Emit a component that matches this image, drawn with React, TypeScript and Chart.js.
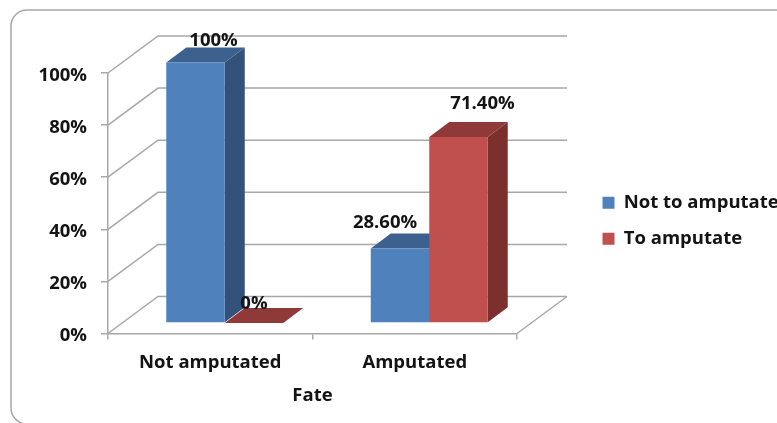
import React, { useEffect, useRef } from "react";
import { Chart, registerables } from "chart.js";

Chart.register(...registerables);

const categories = ["Not amputated", "Amputated"];
const notToAmputate = [100, 28.6];
const toAmputate = [0, 71.4];
const notToAmputateLabels = ["100%", "28.60%"];
const toAmputateLabels = ["0%", "71.40%"];
const percentTicks = [0, 20, 40, 60, 80, 100];

const FONT = "'Open Sans', 'Noto Sans', sans-serif";
const TEXT = "#141414";
const LINE = "#a8a8a8";
const labelFont = { family: FONT, size: 18.5, weight: "bold" };

// Receding offset of the chart box, and of the bars inside it.
const WALL_DEPTH = { x: 50, y: -37 };
const BAR_SHIFT = { x: 14.5, y: -10.5 };
const BAR_DEPTH = { x: 20, y: -15 };

const barColors = [
  { front: "#4f81bd", side: "#32527b", top: "#3c618f" },
  { front: "#c0504d", side: "#7c302e", top: "#8f3a38" },
];

// Hand-placed label offsets from each bar's top centre, per series and category.
const labelOffsets = [
  [{ x: 18, y: -22 }, { x: -15, y: -26 }],
  [{ x: 0, y: -19 }, { x: 24, y: -33 }],
];
const seriesLabels = [notToAmputateLabels, toAmputateLabels];

const facePath = (ctx: CanvasRenderingContext2D, pts: number[][], fill: string) => {
  ctx.beginPath();
  pts.forEach(([x, y], i) => (i ? ctx.lineTo(x, y) : ctx.moveTo(x, y)));
  ctx.closePath();
  ctx.fillStyle = fill;
  ctx.fill();
};

const cardPlugin = {
  id: "card",
  beforeDraw(chart: any) {
    const { ctx } = chart;
    ctx.save();
    ctx.fillStyle = "#ffffff";
    ctx.fillRect(0, 0, chart.width, chart.height);
    ctx.beginPath();
    ctx.roundRect(11, 10, 820, 414, 16);
    ctx.strokeStyle = "#a6a6a6";
    ctx.lineWidth = 1.5;
    ctx.stroke();
    ctx.restore();
  },
};

// Moves the legend into the free space right of the box; its clip must reach the canvas edge.
const legendPlacement = {
  id: "legendPlacement",
  afterLayout(chart: any) {
    const legend = chart.legend;
    legend.left = 585;
    legend.right = 800;
    legend.width = 215;
    legend.top = 176;
    legend.bottom = 300;
  },
};

// Draws the walls and the extruded bars, in series order so later bars cover earlier ones.
const box3dPlugin = {
  id: "box3d",
  beforeDatasetsDraw(chart: any) {
    const { ctx, chartArea, scales } = chart;
    const { left, right, bottom } = chartArea;

    ctx.save();
    ctx.strokeStyle = LINE;
    ctx.lineWidth = 1.5;
    scales.y.ticks.forEach((tick: any) => {
      const y = scales.y.getPixelForValue(tick.value);
      ctx.beginPath();
      ctx.moveTo(left, y);
      ctx.lineTo(left + WALL_DEPTH.x, y + WALL_DEPTH.y);
      ctx.lineTo(right + WALL_DEPTH.x, y + WALL_DEPTH.y);
      ctx.stroke();
    });
    ctx.beginPath();
    ctx.moveTo(right, bottom);
    ctx.lineTo(right + WALL_DEPTH.x, bottom + WALL_DEPTH.y);
    ctx.stroke();
    ctx.restore();

    ctx.save();
    ctx.translate(BAR_SHIFT.x, BAR_SHIFT.y);
    chart.data.datasets.forEach((_: any, i: number) => {
      chart.getDatasetMeta(i).data.forEach((bar: any) => {
        const x0 = bar.x - bar.width / 2;
        const x1 = bar.x + bar.width / 2;
        const d = BAR_DEPTH;
        facePath(ctx, [[x1, bar.y], [x1 + d.x, bar.y + d.y], [x1 + d.x, bar.base + d.y], [x1, bar.base]], barColors[i].side);
        facePath(ctx, [[x0, bar.y], [x0 + d.x, bar.y + d.y], [x1 + d.x, bar.y + d.y], [x1, bar.y]], barColors[i].top);
        bar.draw(ctx);
      });
    });
    ctx.restore();
    return false;
  },
  afterDraw(chart: any) {
    const { ctx } = chart;
    ctx.save();
    ctx.font = `bold 18.5px ${FONT}`;
    ctx.fillStyle = TEXT;
    ctx.textAlign = "center";
    ctx.textBaseline = "middle";
    chart.data.datasets.forEach((_: any, i: number) => {
      chart.getDatasetMeta(i).data.forEach((bar: any, j: number) => {
        const off = labelOffsets[i][j];
        ctx.fillText(
          seriesLabels[i][j],
          bar.x + BAR_SHIFT.x + off.x,
          bar.y + BAR_SHIFT.y + off.y
        );
      });
    });
    ctx.restore();
  },
};

export default function App() {
  const ref = useRef<HTMLCanvasElement>(null);

  useEffect(() => {
    const chart = new Chart(ref.current as HTMLCanvasElement, {
      type: "bar",
      data: {
        labels: categories,
        datasets: [
          { label: "Not to amputate", data: notToAmputate, backgroundColor: barColors[0].front },
          { label: "To amputate", data: toAmputate, backgroundColor: barColors[1].front },
        ],
      },
      options: {
        responsive: false,
        animation: false,
        categoryPercentage: 0.572,
        barPercentage: 1,
        layout: { padding: { top: 73, right: 80, left: 0, bottom: 0 } },
        plugins: {
          tooltip: { enabled: false },
          legend: {
            position: "right",
            align: "start",
            maxWidth: 180,
            labels: {
              boxWidth: 12,
              boxHeight: 12,
              padding: 17.5,
              color: TEXT,
              font: labelFont,
            },
          },
        },
        scales: {
          x: {
            offset: true,
            grid: { offset: true, drawOnChartArea: false, drawTicks: true, tickLength: 6, color: LINE, lineWidth: 1.5 },
            border: { color: LINE, width: 1.5 },
            ticks: { color: TEXT, padding: 12, maxRotation: 0, font: labelFont },
            title: {
              display: true,
              text: "Fate",
              color: TEXT,
              padding: { top: 0, bottom: 16 },
              font: labelFont,
            },
            afterFit(scale: any) {
              scale.height = 89.5;
            },
          },
          y: {
            min: percentTicks[0],
            max: percentTicks[percentTicks.length - 1],
            grid: { drawOnChartArea: false, drawTicks: true, tickLength: 7, color: LINE, lineWidth: 1.5 },
            border: { color: LINE, width: 1.5 },
            afterBuildTicks(scale: any) {
              scale.ticks = percentTicks.map((value) => ({ value }));
            },
            ticks: {
              color: TEXT,
              padding: 14,
              labelOffset: 2.5,
              callback: (v: any) => `${v}%`,
              font: labelFont,
            },
            afterFit(scale: any) {
              scale.width = 108;
            },
          },
        },
      } as any,
      plugins: [cardPlugin, legendPlacement, box3dPlugin],
    });
    return () => chart.destroy();
  }, []);

  return (
    <div style={{ position: "absolute", left: 0, top: 0, width: 777, height: 423, overflow: "hidden" }}>
      <canvas ref={ref} width={777} height={423} style={{ display: "block" }} />
    </div>
  );
}
